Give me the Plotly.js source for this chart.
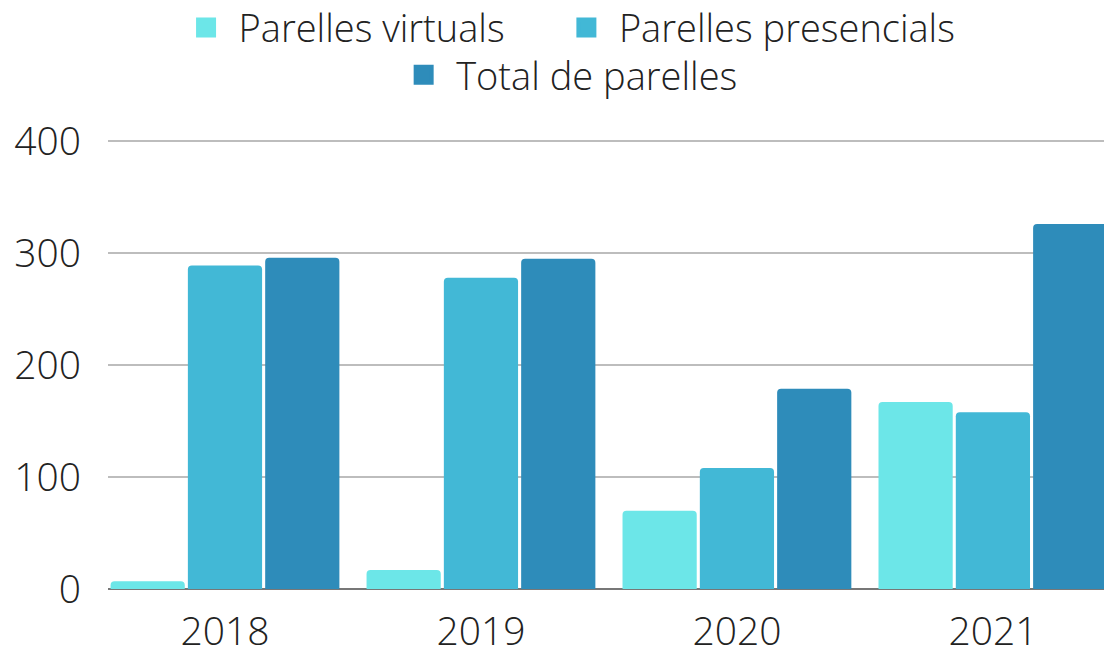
<!DOCTYPE html>
<html>
<head>
<meta charset="utf-8">
<script src="https://cdn.plot.ly/plotly-3.0.1.min.js"></script>
<style>html,body{margin:0;padding:0;background:#fff;}#chart{width:1104px;height:649px;}</style>
</head>
<body>
<div id="chart"></div>
<script>
const years = ['2018', '2019', '2020', '2021'];
const virtuals = [7, 17, 70, 167];
const presencials = [289, 278, 108, 158];
const totals = [296, 295, 179, 326];
const seriesNames = ['Parelles virtuals', 'Parelles presencials', 'Total de parelles'];
const seriesColors = ['#6ce6e8', '#42b8d6', '#2e8cba'];
const yTicks = [0, 100, 200, 300, 400];

const values = [virtuals, presencials, totals];
const legendIds = ['legend', 'legend2', 'legend3'];
const traces = [];
values.forEach((v, i) => {
  traces.push({
    type: 'bar', x: years, y: v, name: seriesNames[i],
    marker: {color: seriesColors[i]}, legendgroup: 'g' + i, showlegend: false,
    hoverinfo: 'x+y+name'
  });
});
values.forEach((v, i) => {
  traces.push({
    type: 'scatter', mode: 'markers', x: [null], y: [null], name: seriesNames[i],
    marker: {color: seriesColors[i], symbol: 'square', size: 16, line: {color: seriesColors[i], width: 4}},
    legendgroup: 'g' + i, legend: legendIds[i], hoverinfo: 'skip'
  });
});

const font = {family: '"Open Sans", sans-serif', size: 38, color: '#222', weight: 300};
const tickFont = Object.assign({}, font, {size: 39});
const legendCommon = {
  orientation: 'h', xanchor: 'center', yanchor: 'middle',
  font: font, bgcolor: 'rgba(0,0,0,0)', itemwidth: 55, itemclick: 'toggle'
};

const layout = {
  width: 1104, height: 649,
  margin: {l: 108, r: 0, t: 139, b: 60, autoexpand: false},
  paper_bgcolor: '#fff', plot_bgcolor: '#fff',
  font: font,
  barmode: 'group', bargap: 0.094, bargroupgap: 0.04, barcornerradius: 4,
  showlegend: true,
  legend: Object.assign({}, legendCommon, {x: 0.235, y: 1.247}),
  legend2: Object.assign({}, legendCommon, {x: 0.652, y: 1.247}),
  legend3: Object.assign({}, legendCommon, {x: 0.461, y: 1.142}),
  xaxis: {
    type: 'category', range: [-0.457, 3.434], showgrid: false, ticks: '',
    tickfont: tickFont, showline: false, zeroline: false, ticklabelstandoff: 16
  },
  yaxis: {
    range: [0, 402], tickvals: yTicks, ticktext: yTicks.map(String),
    showgrid: true, gridcolor: '#bdbdbd', gridwidth: 1.5,
    zeroline: true, zerolinecolor: '#777', zerolinewidth: 2,
    showline: false, ticks: '', tickfont: tickFont, ticklabelstandoff: 26
  }
};

Plotly.newPlot('chart', traces, layout, {displayModeBar: false, responsive: false});
</script>
</body>
</html>
